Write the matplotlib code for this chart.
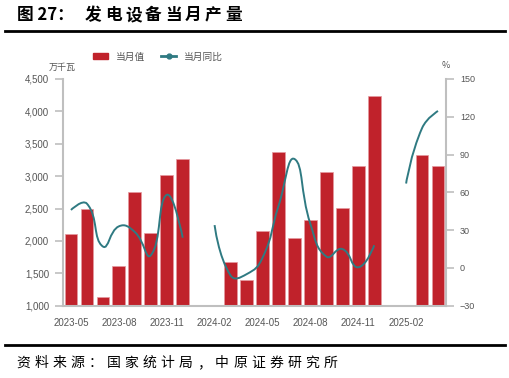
import numpy as np
import matplotlib
matplotlib.use("Agg")
import matplotlib.pyplot as plt
from matplotlib.path import Path
from matplotlib.patches import PathPatch, Patch
from matplotlib.lines import Line2D
from matplotlib.ticker import FuncFormatter

plt.rcParams['font.family'] = ['Noto Sans CJK SC', 'DejaVu Sans']

# data (万千瓦 / %)
months = ["2023-05", "2023-06", "2023-07", "2023-08", "2023-09", "2023-10", "2023-11", "2023-12",
          "2024-01", "2024-02", "2024-03", "2024-04", "2024-05", "2024-06", "2024-07", "2024-08",
          "2024-09", "2024-10", "2024-11", "2024-12", "2025-01", "2025-02", "2025-03", "2025-04"]
output = [2110, 2500, 1140, 1620, 2760, 2130, 3020, 3260,
          np.nan, np.nan, 1680, 1390, 2155, 3370, 2040, 2325,
          3060, 2510, 3155, 4230, np.nan, np.nan, 3325, 3160]
yoy = [46, 51, 17, 33, 28.5, 10, 58, 24,
       np.nan, 34, -6, -5, 8, 49, 86.5, 35,
       9, 15, 0.5, 18, np.nan, 67, 111, 124.6]

BAR_RED = "#c0222b"
TEAL = "#2f7a82"
GREY = "#bfbfbf"
TXT = "#555555"


def smooth_path(xs, ys, sx, sy, smooth=0.5):
    """echarts-like bezier smoothing, distances measured in pixel-ish units"""
    verts, codes = [], []
    xs = np.asarray(xs, float)
    ys = np.asarray(ys, float)
    ok = ~np.isnan(ys)
    i = 0
    n = len(xs)
    while i < n:
        if not ok[i]:
            i += 1
            continue
        j = i
        while j + 1 < n and ok[j + 1]:
            j += 1
        px, py = xs[i:j + 1], ys[i:j + 1]
        m = len(px)
        cps = []
        for k in range(m):
            if k == 0 or k == m - 1:
                cps.append(((px[k], py[k]), (px[k], py[k])))
                continue
            vx, vy = px[k + 1] - px[k - 1], py[k + 1] - py[k - 1]
            d0 = np.hypot((px[k] - px[k - 1]) * sx, (py[k] - py[k - 1]) * sy)
            d1 = np.hypot((px[k + 1] - px[k]) * sx, (py[k + 1] - py[k]) * sy)
            r0, r1 = d0 / (d0 + d1), d1 / (d0 + d1)
            cps.append(((px[k] - vx * smooth * r0, py[k] - vy * smooth * r0),
                        (px[k] + vx * smooth * r1, py[k] + vy * smooth * r1)))
        verts.append((px[0], py[0]))
        codes.append(Path.MOVETO)
        for k in range(1, m):
            verts += [cps[k - 1][1], cps[k][0], (px[k], py[k])]
            codes += [Path.CURVE4] * 3
        i = j + 1
    return Path(verts, codes)


fig = plt.figure(figsize=(5.1, 3.78), dpi=100)
W, H = 510, 378
ax = fig.add_axes([63 / W, 1 - 305.7 / H, (446 - 63) / W, (305.7 - 79) / H])
ax2 = ax.twinx()

x = np.arange(len(months))
ax.bar(x, output, width=0.8, color=BAR_RED, edgecolor="#e59aa0", linewidth=0.5, zorder=2)
ax.set_xlim(-0.5, len(months) - 0.5)
ax.set_ylim(1000, 4500)
ax.set_yticks(np.arange(1000, 4501, 500))
ax.yaxis.set_major_formatter(FuncFormatter(lambda v, p: f"{int(v):,}"))

ax2.set_ylim(-30, 150)
ax2.set_yticks(np.arange(-30, 151, 30))
sx = 16.0
sy = 226.7 / 180
ax2.add_patch(PathPatch(smooth_path(x, yoy, sx, sy), facecolor="none", edgecolor=TEAL,
                        linewidth=1.4, zorder=3))

ax.set_xticks(x[::3])
ax.set_xticklabels(months[::3], fontfamily="Liberation Sans", fontsize=7, color=TXT)
ax.tick_params(axis="x", length=0, pad=9)
ax.tick_params(axis="y", length=6, width=1.2, color=GREY, pad=4, labelsize=7, labelcolor=TXT)
ax2.tick_params(axis="y", length=6, width=1.2, color=GREY, pad=4, labelsize=6.5, labelcolor=TXT)
for lab in ax.get_yticklabels() + ax2.get_yticklabels():
    lab.set_fontfamily("Liberation Sans")

for a in (ax, ax2):
    a.spines["top"].set_visible(False)
    for s in ("left", "right", "bottom"):
        a.spines[s].set_color(GREY)
        a.spines[s].set_linewidth(1.5)
ax.spines["right"].set_visible(False)
ax2.spines["left"].set_visible(False)
ax2.spines["bottom"].set_visible(False)

fig.text(62 / W, 1 - 67 / H, "万千瓦", fontsize=6.5, color=TXT, ha="center", va="center")
fig.text(446 / W, 1 - 66 / H, "%", fontsize=6.5, color=TXT, ha="center", va="center")

handles = [Patch(facecolor=BAR_RED, edgecolor=BAR_RED, label="当月值"),
           Line2D([], [], color=TEAL, lw=2, marker="o", markersize=3.5, label="当月同比")]
fig.legend(handles=handles, loc="center", bbox_to_anchor=(158 / W, 1 - 56.7 / H), ncol=2,
           frameon=False, fontsize=7, labelcolor=TXT, handlelength=1.55, handleheight=0.6,
           handletextpad=0.8, columnspacing=1.7)

# title, rules and source
fig.text(17 / W, 1 - 15 / H, "图 27：", fontsize=12, fontweight="bold", ha="left", va="center")
for i, ch in enumerate("发电设备当月产量"):
    fig.text((85 + i * 20) / W, 1 - 15 / H, ch, fontsize=12, fontweight="bold", ha="left", va="center")
fig.add_artist(Line2D([5 / W, 505 / W], [1 - 31 / H, 1 - 31 / H], color="black", lw=2))
fig.add_artist(Line2D([5 / W, 505 / W], [1 - 345 / H, 1 - 345 / H], color="black", lw=2))
for i, ch in enumerate("资料来源：国家统计局，中原证券研究所"):
    fig.text((16 + i * 18.1) / W, 1 - 363 / H, ch, fontsize=10, ha="left", va="center")

fig.savefig("out.png", dpi=100)
